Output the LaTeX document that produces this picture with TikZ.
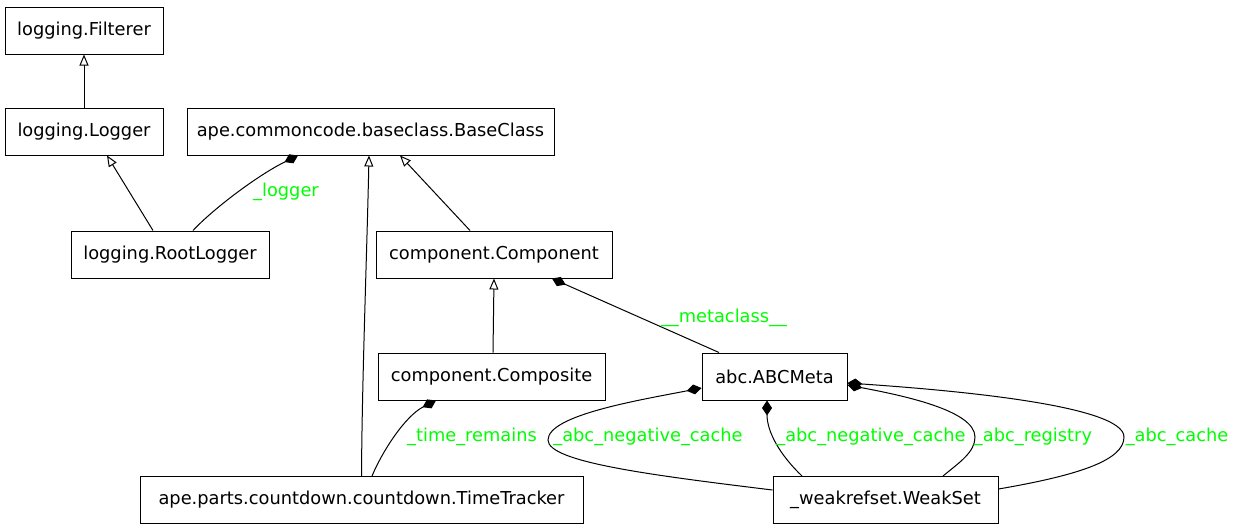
\documentclass[tikz,border=0pt]{standalone}
\usepackage{fontspec}
\setmainfont{DejaVu Sans}
\usetikzlibrary{arrows.meta}
\definecolor{lblgreen}{RGB}{0,255,0}
\begin{document}
\begin{tikzpicture}[x=1pt,y=-1pt,
  cls/.style={draw, line width=1pt, inner sep=0pt, minimum height=47pt, font=\fontsize{17.8}{21}\selectfont},
  lbl/.style={text=lblgreen, inner sep=0pt, font=\fontsize{17.8}{21}\selectfont},
  inh/.style={line width=1pt, -{Triangle[open, length=11pt, width=9pt]}},
  cmp/.style={line width=1pt, -{Diamond[length=15pt, width=10pt]}},
]
\useasboundingbox (0,0) rectangle (1235,531);
% classes
\node[cls, minimum width=158pt] (filterer) at (84,30.5) {logging.Filterer};
\node[cls, minimum width=158pt] (logger) at (84,131.5) {logging.Logger};
\node[cls, minimum width=367pt] (base) at (370.5,131.5) {ape.commoncode.baseclass.BaseClass};
\node[cls, minimum width=198pt] (root) at (170,254.5) {logging.RootLogger};
\node[cls, minimum width=236pt] (comp) at (494,254.5) {component.Component};
\node[cls, minimum width=227pt] (composite) at (491.5,376.5) {component.Composite};
\node[cls, minimum width=145pt] (abcmeta) at (774.5,376.5) {abc.ABCMeta};
\node[cls, minimum width=443pt] (tracker) at (361.5,500) {ape.parts.countdown.countdown.TimeTracker};
\node[cls, minimum width=225pt] (weakset) at (885.5,500) {\_weakrefset.WeakSet};
% inheritance
\draw[inh] (logger.north) -- (filterer.south);
\draw[inh] ([xshift=-17pt]root.north) -- ([xshift=23pt]logger.south);
\draw[inh] (tracker.north) .. controls (362,380) and (367,250) .. ([xshift=-1.5pt]base.south);
\draw[inh] ([xshift=-24pt]comp.north) -- ([xshift=29.5pt]base.south);
\draw[inh] ([xshift=1.5pt]composite.north) -- (comp.south);
% composition
\draw[cmp] ([xshift=23pt]root.north) .. controls (213,209) and (258,175) .. ([xshift=-72.5pt]base.south);
\draw[cmp] ([xshift=-55.5pt]abcmeta.north) -- ([xshift=58pt]comp.south);
\draw[cmp] ([xshift=10.5pt]tracker.north) .. controls (382,452) and (405,416) .. ([xshift=-55.5pt]composite.south);
\draw[cmp] ([yshift=10pt]weakset.west) .. controls (650,475) and (548,462) .. (548,440)
   .. controls (548,415) and (640,400) .. ([yshift=-11.5pt]abcmeta.west);
\draw[cmp] ([xshift=-83.5pt]weakset.north) .. controls (780,455) and (767,432) .. ([xshift=-7.5pt]abcmeta.south);
\draw[cmp] ([xshift=57.5pt]weakset.north) .. controls (960,462) and (975,452) .. (975,437)
   .. controls (975,410) and (900,395) .. ([yshift=-8.5pt]abcmeta.east);
\draw[cmp] ([yshift=11pt]weakset.east) .. controls (1080,475) and (1124,460) .. (1124,437)
   .. controls (1124,405) and (950,390) .. ([yshift=-6.5pt]abcmeta.east);
% labels
\node[lbl] (l1) at (286,192) {\_logger};
\node[lbl] (l2) at (724,318) {\_\_metaclass\_\_};
\node[lbl] (l3) at (472,437) {\_time\_remains};
\node[lbl] (l4) at (648,437) {\_abc\_negative\_cache};
\node[lbl] (l5) at (871,437) {\_abc\_negative\_cache};
\node[lbl] (l6) at (1033,437) {\_abc\_registry};
\node[lbl] (l7) at (1177,437) {\_abc\_cache};
\end{tikzpicture}
\end{document}
